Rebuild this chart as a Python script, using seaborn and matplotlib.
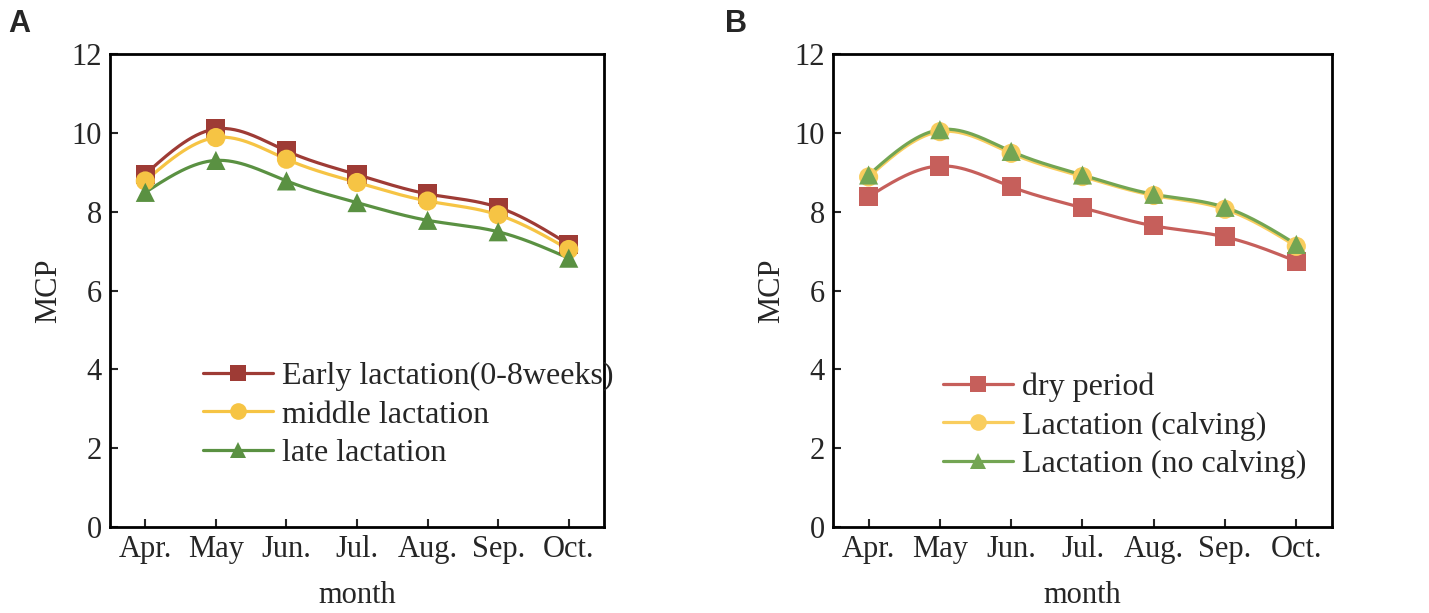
import numpy as np
import pandas as pd
import seaborn as sns
import matplotlib.pyplot as plt
from matplotlib.lines import Line2D

months = ['Apr.', 'May', 'Jun.', 'Jul.', 'Aug.', 'Sep.', 'Oct.']

# panel A
early = [8.95, 10.10, 9.54, 8.94, 8.45, 8.11, 7.17]
middle = [8.78, 9.88, 9.33, 8.74, 8.27, 7.92, 7.04]
late = [8.49, 9.30, 8.78, 8.23, 7.78, 7.49, 6.82]

# panel B
dry = [8.38, 9.16, 8.63, 8.10, 7.64, 7.36, 6.74]
calving = [8.88, 10.03, 9.48, 8.89, 8.41, 8.06, 7.12]
no_calving = [8.93, 10.08, 9.53, 8.93, 8.44, 8.11, 7.17]

names_a = ['Early lactation(0-8weeks)', 'middle lactation', 'late lactation']
names_b = ['dry period', 'Lactation (calving)', 'Lactation (no calving)']
colors_a = ['#9E3B35', '#F6C444', '#5A9142']
colors_b = ['#C65F5B', '#F9CD5E', '#73A553']
markers = ['s', 'o', '^']


def natural_spline(y, n=200):
    # smooth curve through the points (natural cubic spline), only for drawing
    y = np.asarray(y, dtype=float)
    k = len(y)
    A = np.zeros((k, k))
    r = np.zeros(k)
    A[0, 0] = A[-1, -1] = 1
    for i in range(1, k - 1):
        A[i, i - 1] = 1
        A[i, i] = 4
        A[i, i + 1] = 1
        r[i] = 6 * (y[i + 1] - 2 * y[i] + y[i - 1])
    m = np.linalg.solve(A, r)
    xs = np.linspace(0, k - 1, n)
    idx = np.clip(np.floor(xs).astype(int), 0, k - 2)
    t = xs - idx
    ys = ((1 - t) * y[idx] + t * y[idx + 1]
          + ((1 - t) ** 3 - (1 - t)) * m[idx] / 6
          + (t ** 3 - t) * m[idx + 1] / 6)
    return xs, ys


sns.set_style('white')
plt.rcParams['font.family'] = ['Liberation Serif', 'DejaVu Serif']

fig = plt.figure(figsize=(14.29, 6.13), dpi=100)
ax_a = fig.add_axes([0.077, 0.1403, 0.3457, 0.7716])
ax_b = fig.add_axes([0.5829, 0.1403, 0.3492, 0.7716])


def draw(ax, series, names, colors, legend_pos):
    handles = []
    for vals, name, col, mk in zip(series, names, colors, markers):
        xs, ys = natural_spline(vals)
        ax.plot(xs, ys, color=col, lw=2.3, zorder=2)
        df = pd.DataFrame({'x': np.arange(len(months)), 'y': vals})
        sns.scatterplot(data=df, x='x', y='y', ax=ax, color=col, marker=mk,
                        s=190, edgecolor='none', zorder=3, legend=False)
        handles.append(Line2D([], [], color=col, lw=2.3, marker=mk,
                              markersize=12, markeredgewidth=0))
    ax.set_xlim(-0.5, 6.5)
    ax.set_ylim(0, 12)
    ax.set_xticks(range(len(months)))
    ax.set_xticklabels(months)
    ax.set_yticks(range(0, 13, 2))
    ax.tick_params(axis='both', direction='in', length=6, width=1.5,
                   labelsize=22, bottom=True, left=True, pad=6)
    for sp in ax.spines.values():
        sp.set_visible(True)
        sp.set_color('black')
        sp.set_linewidth(2)
    ax.set_xlabel('month', fontsize=22, labelpad=12)
    ax.set_ylabel('MCP', fontsize=22, labelpad=6)
    ax.legend(handles, names, loc='center left', bbox_to_anchor=legend_pos,
              frameon=False, fontsize=23, handlelength=2.2,
              handletextpad=0.28, labelspacing=0.28, borderaxespad=0,
              borderpad=0)


draw(ax_a, [early, middle, late], names_a, colors_a, (0.188, 0.237))
draw(ax_b, [dry, calving, no_calving], names_b, colors_b, (0.22, 0.214))

fig.text(0.006, 0.985, 'A', fontsize=22, fontweight='bold',
         family='Liberation Sans', va='top')
fig.text(0.507, 0.985, 'B', fontsize=22, fontweight='bold',
         family='Liberation Sans', va='top')

fig.savefig('out.png', dpi=100)
